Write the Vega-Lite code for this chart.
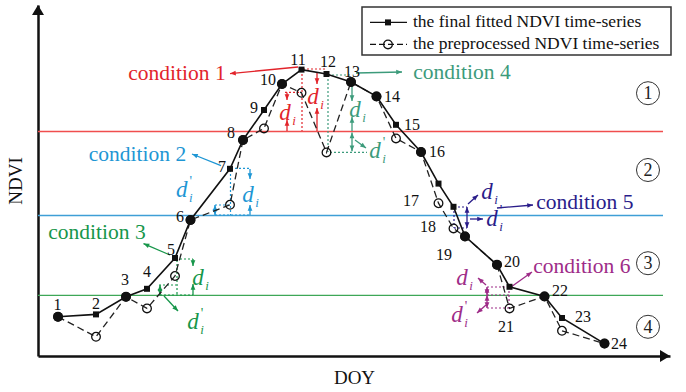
{
"$schema":"https://vega.github.io/schema/vega-lite/v6.json",
"width":632,"height":351,
"autosize":{"type":"none"},
"padding":{"left":38,"top":5,"right":16,"bottom":36},
"background":"white",
"config":{"view":{"stroke":null},"font":"Liberation Serif"},
"datasets":{
"pts":[
{"n":1,"s":"fit","x":10,"y":0.098},{"n":1,"s":"pre","x":10,"y":0.098},
{"n":2,"s":"fit","x":29,"y":0.104},{"n":2,"s":"pre","x":29,"y":0.048},
{"n":3,"s":"fit","x":44,"y":0.148},{"n":3,"s":"pre","x":44,"y":0.148},
{"n":4,"s":"fit","x":54.5,"y":0.168},{"n":4,"s":"pre","x":54.5,"y":0.119},
{"n":5,"s":"fit","x":68.5,"y":0.245},{"n":5,"s":"pre","x":68.5,"y":0.2},
{"n":6,"s":"fit","x":76.25,"y":0.34},{"n":6,"s":"pre","x":76.25,"y":0.34},
{"n":7,"s":"fit","x":96,"y":0.468},{"n":7,"s":"pre","x":96,"y":0.378},
{"n":8,"s":"fit","x":102.5,"y":0.54},{"n":8,"s":"pre","x":102.5,"y":0.54},
{"n":9,"s":"fit","x":113,"y":0.615},{"n":9,"s":"pre","x":113,"y":0.569},
{"n":10,"s":"fit","x":122,"y":0.68},{"n":10,"s":"pre","x":122,"y":0.68},
{"n":11,"s":"fit","x":131.75,"y":0.716},{"n":11,"s":"pre","x":131.75,"y":0.658},
{"n":12,"s":"fit","x":144.25,"y":0.705},{"n":12,"s":"pre","x":144.25,"y":0.509},
{"n":13,"s":"fit","x":156.5,"y":0.685},{"n":13,"s":"pre","x":156.5,"y":0.685},
{"n":14,"s":"fit","x":169.25,"y":0.649},{"n":14,"s":"pre","x":169.25,"y":0.649},
{"n":15,"s":"fit","x":179,"y":0.578},{"n":15,"s":"pre","x":179,"y":0.544},
{"n":16,"s":"fit","x":191.5,"y":0.51},{"n":16,"s":"pre","x":191.5,"y":0.51},
{"n":17,"s":"fit","x":200.25,"y":0.431},{"n":17,"s":"pre","x":200.25,"y":0.382},
{"n":18,"s":"fit","x":207.75,"y":0.373},{"n":18,"s":"pre","x":207.75,"y":0.319},
{"n":19,"s":"fit","x":213.5,"y":0.299},{"n":19,"s":"pre","x":213.5,"y":0.299},
{"n":20,"s":"fit","x":229.5,"y":0.228},{"n":20,"s":"pre","x":229.5,"y":0.228},
{"n":21,"s":"fit","x":235.75,"y":0.173},{"n":21,"s":"pre","x":235.75,"y":0.119},
{"n":22,"s":"fit","x":253.25,"y":0.149},{"n":22,"s":"pre","x":253.25,"y":0.149},
{"n":23,"s":"fit","x":262,"y":0.095},{"n":23,"s":"pre","x":262,"y":0.063},
{"n":24,"s":"fit","x":283.25,"y":0.031},{"n":24,"s":"pre","x":283.25,"y":0.031}
],
"nums":[
{"t":"1","x":9.75,"y":0.1275},{"t":"2","x":29,"y":0.13},{"t":"3","x":43.5,"y":0.19},{"t":"4","x":54.5,"y":0.21},
{"t":"5","x":66.5,"y":0.265},{"t":"6","x":71,"y":0.3475},{"t":"7","x":92,"y":0.4725},{"t":"8","x":96.5,"y":0.5575},
{"t":"9","x":108,"y":0.62},{"t":"10","x":115,"y":0.69},{"t":"11","x":130,"y":0.74},{"t":"12","x":145,"y":0.735},
{"t":"13","x":157,"y":0.71},{"t":"14","x":177,"y":0.6475},{"t":"15","x":187,"y":0.5775},{"t":"16","x":199.5,"y":0.51},
{"t":"17","x":186.5,"y":0.3875},{"t":"18","x":195,"y":0.3225},{"t":"19","x":203,"y":0.2525},{"t":"20","x":237,"y":0.235},
{"t":"21","x":234,"y":0.0725},{"t":"22","x":261,"y":0.1625},{"t":"23","x":272.5,"y":0.0975},{"t":"24","x":290.5,"y":0.03}
],
"hl":[
{"c":"t1","x":0,"x2":312.5,"y":0.5613},
{"c":"t2","x":0,"x2":312.5,"y":0.3513},
{"c":"t3","x":0,"x2":312.5,"y":0.1518}
],
"segs":[
{"c":"c1","k":"arrow","x":130,"y":0.7225,"x2":96,"y2":0.706},
{"c":"c1","k":"dot","x":132,"y":0.715,"x2":132,"y2":0.5625},
{"c":"c1","k":"dot","x":132.5,"y":0.7175,"x2":143.5,"y2":0.7175},
{"c":"c1","k":"arrow","x":139.5,"y":0.71,"x2":139.5,"y2":0.68},
{"c":"c1","k":"arrow","x":139.5,"y":0.5625,"x2":139.5,"y2":0.62},
{"c":"c1","k":"dot","x":123.5,"y":0.659,"x2":131.5,"y2":0.659},
{"c":"c1","k":"arrow","x":124.5,"y":0.659,"x2":124.5,"y2":0.64},
{"c":"c1","k":"arrow","x":124.5,"y":0.5625,"x2":124.5,"y2":0.59},
{"c":"c4","k":"arrow","x":159,"y":0.7075,"x2":182,"y2":0.71},
{"c":"c4","k":"dot","x":145,"y":0.7025,"x2":156.5,"y2":0.7025},
{"c":"c4","k":"dot","x":145,"y":0.7025,"x2":145,"y2":0.51},
{"c":"c4","k":"dot","x":146,"y":0.509,"x2":164.5,"y2":0.509},
{"c":"c4","k":"arrow","x":157,"y":0.675,"x2":157,"y2":0.6375},
{"c":"c4","k":"arrow","x":157,"y":0.5625,"x2":157,"y2":0.5975},
{"c":"c4","k":"darrow","x":157,"y":0.5585,"x2":157,"y2":0.512},
{"c":"c4","k":"arrow","x":158.5,"y":0.54,"x2":164,"y2":0.52},
{"c":"c2","k":"arrow","x":91.5,"y":0.476,"x2":77,"y2":0.505},
{"c":"c2","k":"dot","x":96.5,"y":0.469,"x2":106,"y2":0.469},
{"c":"c2","k":"arrow","x":106,"y":0.4675,"x2":106,"y2":0.4425},
{"c":"c2","k":"dot","x":96.25,"y":0.465,"x2":96.25,"y2":0.3525},
{"c":"c2","k":"dot","x":88.5,"y":0.3775,"x2":96,"y2":0.3775},
{"c":"c2","k":"darrow","x":88.5,"y":0.3775,"x2":88.5,"y2":0.3525},
{"c":"c2","k":"dot","x":88.5,"y":0.3525,"x2":106,"y2":0.3525},
{"c":"c2","k":"arrow","x":106,"y":0.3525,"x2":106,"y2":0.3775},
{"c":"c3","k":"arrow","x":66,"y":0.2525,"x2":52.75,"y2":0.281},
{"c":"c3","k":"dot","x":69,"y":0.2425,"x2":77.5,"y2":0.2425},
{"c":"c3","k":"arrow","x":77.5,"y":0.2425,"x2":77.5,"y2":0.225},
{"c":"c3","k":"dot","x":69.5,"y":0.24,"x2":69.5,"y2":0.1525},
{"c":"c3","k":"dot","x":60.5,"y":0.1775,"x2":69,"y2":0.1775},
{"c":"c3","k":"darrow","x":61,"y":0.1775,"x2":61,"y2":0.1525},
{"c":"c3","k":"dot","x":61,"y":0.1525,"x2":77.5,"y2":0.1525},
{"c":"c3","k":"arrow","x":77.5,"y":0.1525,"x2":77.5,"y2":0.18},
{"c":"c3","k":"arrow","x":63,"y":0.15,"x2":70,"y2":0.1125},
{"c":"c5","k":"arrow","x":229.5,"y":0.37,"x2":247.5,"y2":0.3775},
{"c":"c5","k":"dot","x":208,"y":0.3725,"x2":214.5,"y2":0.3725},
{"c":"c5","k":"dot","x":208,"y":0.3725,"x2":208,"y2":0.32},
{"c":"c5","k":"dot","x":208,"y":0.32,"x2":214.5,"y2":0.32},
{"c":"c5","k":"darrow","x":214.5,"y":0.3725,"x2":214.5,"y2":0.32},
{"c":"c5","k":"arrow","x":215,"y":0.38,"x2":220,"y2":0.4025},
{"c":"c5","k":"arrow","x":216,"y":0.3425,"x2":222.5,"y2":0.3425},
{"c":"c6","k":"arrow","x":236.5,"y":0.1725,"x2":247,"y2":0.21},
{"c":"c6","k":"dot","x":224.5,"y":0.1725,"x2":235.5,"y2":0.1725},
{"c":"c6","k":"dot","x":224.5,"y":0.12,"x2":235.5,"y2":0.12},
{"c":"c6","k":"dot","x":224.5,"y":0.1525,"x2":235.5,"y2":0.1525},
{"c":"c6","k":"dot","x":235.5,"y":0.1725,"x2":235.5,"y2":0.12},
{"c":"c6","k":"darrow","x":224.5,"y":0.1725,"x2":224.5,"y2":0.1525},
{"c":"c6","k":"darrow","x":224.5,"y":0.1525,"x2":224.5,"y2":0.12},
{"c":"c6","k":"arrow","x":224,"y":0.1775,"x2":220,"y2":0.195},
{"c":"c6","k":"arrow","x":224,"y":0.1275,"x2":219.5,"y2":0.1075}
],
"conds":[
{"c":"c1","x":69.5,"y":0.705,"t":"condition  1"},
{"c":"c2","x":49.75,"y":0.5025,"t":"condition  2"},
{"c":"c3","x":29.5,"y":0.3075,"t":"condition  3"},
{"c":"c4","x":212,"y":0.708,"t":"condition  4"},
{"c":"c5","x":273.4,"y":0.382,"t":"condition  5"},
{"c":"c6","x":271.9,"y":0.223,"t":"condition  6"}
],
"dl":[
{"c":"c1","x":123.5,"y":0.6075,"p":false},
{"c":"c1","x":137.5,"y":0.6475,"p":false},
{"c":"c4","x":158.5,"y":0.615,"p":false},
{"c":"c4","x":168.5,"y":0.5125,"p":true},
{"c":"c2","x":105,"y":0.4025,"p":false},
{"c":"c2","x":71.85,"y":0.415,"p":true},
{"c":"c3","x":80,"y":0.195,"p":false},
{"c":"c3","x":77.5,"y":0.085,"p":true},
{"c":"c5","x":224.5,"y":0.411,"p":false},
{"c":"c5","x":227,"y":0.3425,"p":true},
{"c":"c6","x":212,"y":0.195,"p":false},
{"c":"c6","x":209.5,"y":0.1025,"p":true}
],
"zones":[
{"t":"1","x":305,"y":0.657},{"t":"2","x":305,"y":0.465},{"t":"3","x":305,"y":0.232},{"t":"4","x":305,"y":0.073}
],
"lbox":[{"x":162,"x2":316.5,"y":0.8725,"y2":0.7525}],
"lline":[{"s":"fit","x":166,"x2":184.5,"y":0.834},{"s":"pre","x":166,"x2":184.5,"y":0.779}],
"lsym":[{"s":"fit","x":175,"y":0.834},{"s":"pre","x":175,"y":0.779}],
"ltext":[{"x":187.5,"y":0.834,"t":"the final fitted NDVI time-series"},{"x":187.5,"y":0.779,"t":"the preprocessed NDVI time-series"}],
"yarrow":[{"x":0,"y":0.8775}],
"xarrow":[{"x":316,"y":0}]
},
"encoding":{
"x":{"field":"x","type":"quantitative","scale":{"domain":[0,316],"nice":false,"zero":false},
 "axis":{"title":"DOY","ticks":false,"labels":false,"grid":false,"domain":true,"domainColor":"#111","domainWidth":2.5,"titleFont":"Liberation Serif","titleFontSize":19,"titleFontWeight":"normal","titleColor":"#111","titlePadding":12}},
"y":{"field":"y","type":"quantitative","scale":{"domain":[0,0.8775],"nice":false,"zero":false},
 "axis":{"title":"NDVI","ticks":false,"labels":false,"grid":false,"domain":true,"domainColor":"#111","domainWidth":2.5,"titleFont":"Liberation Serif","titleFontSize":19,"titleFontWeight":"normal","titleColor":"#111","titlePadding":13}}
},
"layer":[
{"data":{"name":"hl"},"mark":{"type":"rule","strokeWidth":1.3},
 "encoding":{"x2":{"field":"x2"},"color":{"field":"c","type":"nominal","scale":{"domain":["c1","c2","c3","c4","c5","c6","t1","t2","t3"],"range":["#e2242b","#1e96d4","#17964a","#3c9b7b","#2a1d8a","#9e2c88","#f04e4e","#3f9fd6","#3ea757"]},"legend":null}}},
{"data":{"name":"segs"},"transform":[{"filter":"datum.k=='dot'"}],"mark":{"type":"rule","strokeWidth":1.2,"strokeDash":[2,2]},
 "encoding":{"x2":{"field":"x2"},"y2":{"field":"y2"},"color":{"field":"c","type":"nominal","legend":null}}},
{"data":{"name":"segs"},"transform":[{"filter":"datum.k!='dot'"}],"mark":{"type":"rule","strokeWidth":1.3},
 "encoding":{"x2":{"field":"x2"},"y2":{"field":"y2"},"color":{"field":"c","type":"nominal","legend":null}}},
{"data":{"name":"segs"},"transform":[{"filter":"datum.k!='dot'"},{"calculate":"atan2((datum.x2-datum.x)*2,(datum.y2-datum.y)*400)*180/PI","as":"ang"},{"calculate":"datum.x2","as":"x"},{"calculate":"datum.y2","as":"y"}],
 "mark":{"type":"point","shape":"M0,0L0.45,1.1L-0.45,1.1Z","filled":true,"opacity":1,"size":110},
 "encoding":{"angle":{"field":"ang","type":"quantitative","scale":null},"color":{"field":"c","type":"nominal","legend":null}}},
{"data":{"name":"segs"},"transform":[{"filter":"datum.k=='darrow'"},{"calculate":"atan2((datum.x-datum.x2)*2,(datum.y-datum.y2)*400)*180/PI","as":"ang"}],
 "mark":{"type":"point","shape":"M0,0L0.45,1.1L-0.45,1.1Z","filled":true,"opacity":1,"size":110},
 "encoding":{"angle":{"field":"ang","type":"quantitative","scale":null},"color":{"field":"c","type":"nominal","legend":null}}},
{"data":{"name":"pts"},"transform":[{"filter":"datum.s=='pre'"}],"mark":{"type":"line","color":"#222","strokeWidth":1.3,"strokeDash":[7,4]},"encoding":{}},
{"data":{"name":"pts"},"transform":[{"filter":"datum.s=='fit'"}],"mark":{"type":"line","color":"#111","strokeWidth":1.6},"encoding":{}},
{"data":{"name":"pts"},"transform":[{"filter":"datum.s=='pre'"}],"mark":{"type":"point","shape":"circle","filled":false,"color":"#111","strokeWidth":1.3,"size":75,"opacity":1},"encoding":{}},
{"data":{"name":"pts"},"transform":[{"filter":"datum.s=='fit'"}],"mark":{"type":"point","shape":"square","filled":true,"color":"#111","size":36,"opacity":1},"encoding":{}},
{"data":{"name":"pts"},"transform":[{"joinaggregate":[{"op":"min","field":"y","as":"lo"},{"op":"max","field":"y","as":"hi"}],"groupby":["n"]},{"filter":"datum.s=='pre' && datum.lo==datum.hi"}],
 "mark":{"type":"point","shape":"circle","filled":true,"color":"#111","size":95,"opacity":1},"encoding":{}},
{"data":{"name":"nums"},"mark":{"type":"text","font":"Liberation Serif","fontSize":16,"color":"#111","align":"center","baseline":"middle"},"encoding":{"text":{"field":"t"}}},
{"data":{"name":"conds"},"mark":{"type":"text","font":"Liberation Serif","fontSize":21.5,"align":"center","baseline":"middle"},
 "encoding":{"text":{"field":"t"},"color":{"field":"c","type":"nominal","legend":null}}},
{"data":{"name":"dl"},"mark":{"type":"text","font":"Liberation Serif","fontStyle":"italic","fontSize":23,"align":"center","baseline":"middle","text":"d"},
 "encoding":{"color":{"field":"c","type":"nominal","legend":null}}},
{"data":{"name":"dl"},"mark":{"type":"text","font":"Liberation Serif","fontStyle":"italic","fontSize":13,"align":"center","baseline":"middle","text":"i","dx":9,"dy":8},
 "encoding":{"color":{"field":"c","type":"nominal","legend":null}}},
{"data":{"name":"dl"},"transform":[{"filter":"datum.p"}],"mark":{"type":"text","font":"Liberation Serif","fontSize":14,"align":"center","baseline":"middle","text":"'","dx":9,"dy":-8},
 "encoding":{"color":{"field":"c","type":"nominal","legend":null}}},
{"data":{"name":"zones"},"mark":{"type":"point","shape":"circle","filled":false,"color":"#333","strokeWidth":1,"size":530,"opacity":1},"encoding":{}},
{"data":{"name":"zones"},"mark":{"type":"text","font":"Liberation Serif","fontSize":18,"color":"#222","align":"center","baseline":"middle","dy":1},"encoding":{"text":{"field":"t"}}},
{"data":{"name":"lbox"},"mark":{"type":"rect","fill":"white","stroke":"#333","strokeWidth":1.5},"encoding":{"x2":{"field":"x2"},"y2":{"field":"y2"}}},
{"data":{"name":"lline"},"mark":{"type":"rule","color":"#111","strokeWidth":1.4},
 "encoding":{"x2":{"field":"x2"},"strokeDash":{"field":"s","type":"nominal","scale":{"domain":["fit","pre"],"range":[[1,0],[6,3]]},"legend":null}}},
{"data":{"name":"lsym"},"transform":[{"filter":"datum.s=='fit'"}],"mark":{"type":"point","shape":"square","filled":true,"color":"#111","size":36,"opacity":1},"encoding":{}},
{"data":{"name":"lsym"},"transform":[{"filter":"datum.s=='pre'"}],"mark":{"type":"point","shape":"circle","filled":false,"color":"#111","strokeWidth":1.3,"size":75,"opacity":1},"encoding":{}},
{"data":{"name":"ltext"},"mark":{"type":"text","font":"Liberation Serif","fontSize":17.5,"color":"#111","align":"left","baseline":"middle"},"encoding":{"text":{"field":"t"}}},
{"data":{"name":"yarrow"},"mark":{"type":"point","shape":"M0,0L0.6,1L-0.6,1Z","filled":true,"color":"#111","opacity":1,"size":400,"angle":0},"encoding":{}},
{"data":{"name":"xarrow"},"mark":{"type":"point","shape":"M0,0L0.6,1L-0.6,1Z","filled":true,"color":"#111","opacity":1,"size":400,"angle":90},"encoding":{}}
]
}
